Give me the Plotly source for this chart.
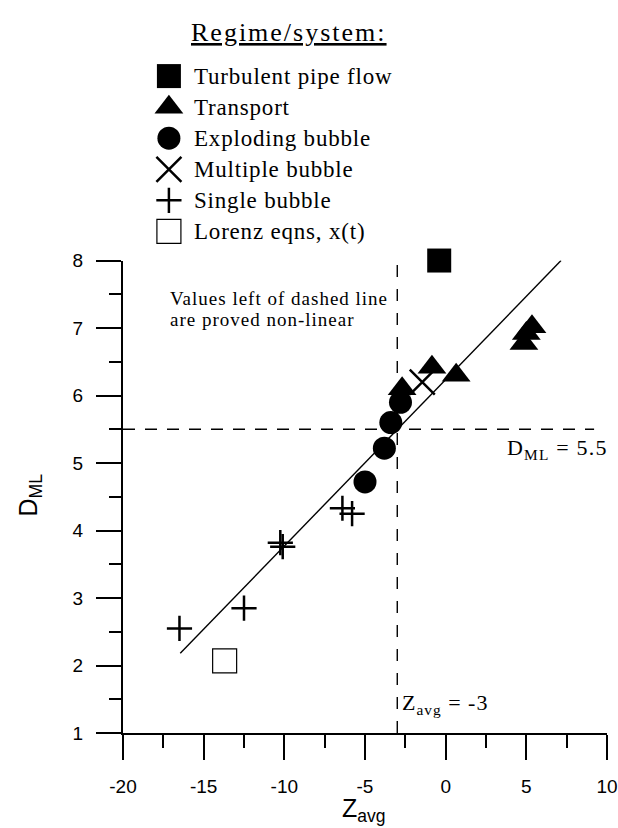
import plotly.graph_objects as go

# ---------------- data ----------------
turb_x = [-0.4]
turb_y = [8.0]
trans_x = [-2.7, -0.85, 0.65, 4.85, 5.0, 5.35]
trans_y = [6.1, 6.42, 6.3, 6.77, 6.92, 7.02]
expl_x = [-2.8, -3.4, -3.8, -5.0]
expl_y = [5.9, 5.6, 5.22, 4.72]
mult_x = [-1.45]
mult_y = [6.2]
single_x = [-16.5, -12.5, -10.25, -10.1, -6.4, -5.8]
single_y = [2.55, 2.85, 3.82, 3.76, 4.33, 4.25]
lorenz_x = [-13.7]
lorenz_y = [2.07]
fit_x = [-16.45, 7.15]
fit_y = [2.18, 8.0]
z_crit = -3
d_crit = 5.5
legend_labels = ["Turbulent pipe flow", "Transport", "Exploding bubble",
                 "Multiple bubble", "Single bubble", "Lorenz eqns, x(t)"]
note_lines = ["Values left of dashed line", "are proved non-linear"]
x_ticks = [-20, -15, -10, -5, 0, 5, 10]
x_ticktext = ["-20", "-15", "-10", "-5", "0", "5", "10"]
y_ticks = [1, 2, 3, 4, 5, 6, 7, 8]

# ---------------- layout geometry ----------------
W, H = 618, 828
ML, MR, MT, MB = 123, 10, 0, 95
PW = W - ML - MR
PH = H - MT - MB
Y_TOP_PX = 254            # pixel row of y = 8
main_dom_top = (PH - Y_TOP_PX) / PH
leg_dom_bot = 0.66
leg_h = PH * (1 - leg_dom_bot)

SERIF = "Liberation Serif"
SANS = "Liberation Sans"


def px_x(p):
    return (p - ML) / PW


def px_y(p):
    return (PH + MT - p) / PH


def spaced(t, s):
    return '<span style="letter-spacing:%spx">%s</span>' % (s, t)


styles = [
    dict(symbol="square", size=24, color="black", line=dict(width=0)),
    dict(symbol="triangle-up", size=25, color="black", line=dict(width=0)),
    dict(symbol="circle", size=23, color="black", line=dict(width=0)),
    dict(symbol="x-thin", size=25, color="black", line=dict(width=2.5, color="black")),
    dict(symbol="cross-thin", size=18, color="black", line=dict(width=2.5, color="black")),
    dict(symbol="square-open", size=24, color="black", line=dict(width=1.2, color="black")),
]
series = [(turb_x, turb_y), (trans_x, trans_y), (expl_x, expl_y),
          (mult_x, mult_y), (single_x, single_y), (lorenz_x, lorenz_y)]

fig = go.Figure()

# fitted line
fig.add_trace(go.Scatter(x=fit_x, y=fit_y, mode="lines",
                         line=dict(color="black", width=1.4), showlegend=False,
                         hoverinfo="skip"))

# dashed reference lines
fig.add_trace(go.Scatter(x=[z_crit, z_crit], y=[y_ticks[0], 7.95], mode="lines",
                         line=dict(color="black", width=1.4, dash="12px,12px"),
                         showlegend=False, hoverinfo="skip"))
fig.add_trace(go.Scatter(x=[x_ticks[0], 9.2], y=[d_crit, d_crit], mode="lines",
                         line=dict(color="black", width=1.4, dash="12px,10px"),
                         showlegend=False, hoverinfo="skip"))

for (sx, sy), st, name in zip(series, styles, legend_labels):
    fig.add_trace(go.Scatter(x=sx, y=sy, mode="markers", marker=st, name=name,
                             showlegend=False, cliponaxis=False))

# manual legend on an overlay axis (values are pixels from the top)
LEG_X = 169
LEG_TXT_X = 192
LEG_Y0 = 67
LEG_DY = 31.5
for i, (st, name) in enumerate(zip(styles, legend_labels)):
    fig.add_trace(go.Scatter(x=[LEG_X], y=[LEG_Y0 + i * LEG_DY], mode="markers",
                             marker=st, showlegend=False, xaxis="x2", yaxis="y2",
                             cliponaxis=False, hoverinfo="skip"))

annotations = []
for i, name in enumerate(legend_labels):
    annotations.append(dict(x=LEG_TXT_X, y=LEG_Y0 + i * LEG_DY, xref="x2", yref="y2",
                            text=spaced(name, 0.8), showarrow=False, xanchor="left",
                            yanchor="middle",
                            font=dict(family=SERIF, size=23, color="black")))
annotations.append(dict(x=289, y=23, xref="x2", yref="y2",
                        text="<u>" + spaced("Regime/system:", 2.0) + "</u>",
                        showarrow=False, xanchor="center", yanchor="middle",
                        font=dict(family=SERIF, size=26, color="black")))

# in-plot text
for i, line in enumerate(note_lines):
    annotations.append(dict(x=px_x(168), y=px_y(292 + 22 * i), xref="paper", yref="paper",
                            text=spaced(line, 1.0),
                            showarrow=False, xanchor="left", yanchor="middle",
                            font=dict(family=SERIF, size=19, color="black")))
annotations.append(dict(x=px_x(506), y=px_y(445), xref="paper", yref="paper",
                        text=spaced("D<sub>ML</sub> = 5.5", 1.2),
                        showarrow=False, xanchor="left", yanchor="middle",
                        font=dict(family=SERIF, size=22, color="black")))
annotations.append(dict(x=px_x(401), y=px_y(704), xref="paper", yref="paper",
                        text=spaced("Z<sub>avg</sub> = -3", 1.0),
                        showarrow=False, xanchor="left", yanchor="middle",
                        font=dict(family=SERIF, size=22, color="black")))

# axis titles
annotations.append(dict(x=px_x(30), y=px_y(492), xref="paper", yref="paper",
                        text="D<sub>ML</sub>", textangle=-90, showarrow=False,
                        xanchor="center", yanchor="middle",
                        font=dict(family=SANS, size=25, color="black")))
annotations.append(dict(x=px_x(364), y=px_y(811), xref="paper", yref="paper",
                        text="Z<sub>avg</sub>", showarrow=False,
                        xanchor="center", yanchor="middle",
                        font=dict(family=SANS, size=25, color="black")))

axis_common = dict(showgrid=False, zeroline=False, showline=True, linecolor="black",
                   linewidth=2, ticks="outside", ticklen=25, tickwidth=1.8,
                   tickcolor="black", ticklabeloverflow="allow",
                   tickfont=dict(family=SANS, size=19, color="black"))

fig.update_layout(
    width=W, height=H,
    margin=dict(l=ML, r=MR, t=MT, b=MB, pad=0),
    paper_bgcolor="white", plot_bgcolor="white",
    showlegend=False,
    xaxis=dict(range=[x_ticks[0], x_ticks[-1]], tickvals=x_ticks, ticktext=x_ticktext,
               domain=[0, 1], anchor="y",
               minor=dict(dtick=2.5, tick0=x_ticks[0], ticklen=13, tickwidth=1.8,
                          ticks="outside", tickcolor="black"),
               ticklabelstandoff=10, **axis_common),
    yaxis=dict(range=[y_ticks[0], y_ticks[-1]], tickvals=y_ticks,
               domain=[0, main_dom_top], anchor="x",
               minor=dict(dtick=0.5, tick0=y_ticks[0], ticklen=12, tickwidth=1.8,
                          ticks="outside", tickcolor="black"),
               ticklabelstandoff=9, **axis_common),
    xaxis2=dict(domain=[0, 1], range=[ML, ML + PW], anchor="y2", visible=False,
                fixedrange=True),
    yaxis2=dict(domain=[leg_dom_bot, 1], range=[leg_h, 0], anchor="x2",
                visible=False, fixedrange=True),
    annotations=annotations,
)

fig.write_html("out.html")
